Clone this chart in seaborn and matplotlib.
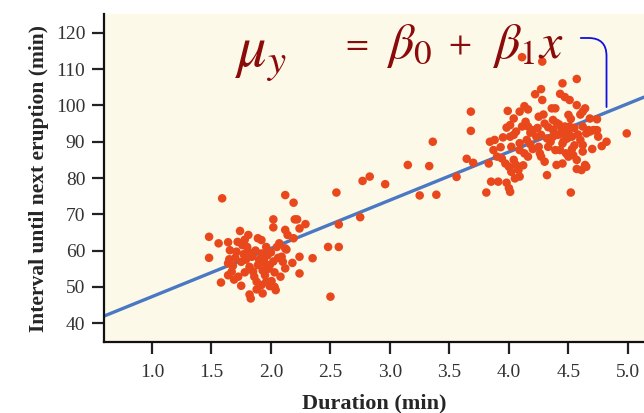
import matplotlib
matplotlib.use("Agg")
import matplotlib.pyplot as plt
import seaborn as sns
import pandas as pd

# ---- data ----
lower_duration = [1.48, 1.48, 1.56, 1.58, 1.59, 1.64, 1.655, 1.65, 1.64, 1.67, 1.64, 1.69,
                  1.74, 1.72, 1.71, 1.75, 1.725, 1.75, 1.82, 1.83, 1.93, 1.81, 1.78, 1.76,
                  1.80, 1.81, 1.84, 1.79, 1.85, 1.89, 1.95, 1.88, 1.96, 1.92, 1.96, 1.89,
                  1.92, 1.87, 1.90, 1.82, 1.86, 1.93, 1.98, 1.99, 2.005, 2.03, 2.04, 2.08,
                  2.12, 2.10, 2.09, 2.13, 2.12, 2.05, 2.07, 2.02, 2.02, 2.12, 2.14, 2.19,
                  2.20, 2.22, 2.29, 2.24, 2.19, 2.12, 2.24, 2.18, 2.24, 2.35, 1.97, 2.00,
                  2.02, 1.94, 1.77, 1.70, 1.68, 1.78, 1.92, 1.99, 1.88, 1.95, 2.03, 2.06]
lower_interval = [63.8, 58.0, 62.0, 51.2, 74.4, 62.3, 60.1, 57.6, 56.5, 54.2, 53.2, 52.0,
                  65.4, 62.4, 59.7, 56.9, 52.8, 50.3, 47.9, 46.8, 48.2, 64.3, 63.0, 61.5,
                  61.0, 59.7, 58.3, 57.5, 54.2, 56.0, 53.2, 51.4, 51.4, 59.2, 61.0, 63.4,
                  62.9, 60.0, 57.5, 55.5, 52.8, 54.5, 55.0, 56.0, 51.6, 50.0, 49.1, 52.8,
                  55.1, 56.9, 58.3, 60.3, 60.6, 61.0, 62.0, 68.6, 66.4, 65.7, 64.3, 63.4,
                  68.6, 68.6, 67.3, 66.1, 73.2, 75.3, 58.3, 56.6, 53.7, 57.9, 58.7, 59.5,
                  57.0, 57.8, 59.0, 58.0, 55.8, 54.0, 50.5, 50.2, 49.3, 56.5, 54.0, 58.0]

middle_duration = [2.48, 2.57, 2.57, 2.50, 2.55, 2.75, 2.77, 2.83, 2.96, 3.15, 3.25, 3.33,
                   3.39, 3.36, 3.56, 3.645, 3.70, 3.68, 3.68]
middle_interval = [61.0, 61.0, 67.2, 47.3, 76.0, 69.2, 79.2, 80.4, 78.3, 83.6, 75.2, 83.3,
                   75.4, 90.0, 80.3, 85.3, 84.2, 93.0, 98.3]

upper_duration = [4.11, 4.28, 4.57, 4.45, 4.27, 4.22, 4.43, 4.47, 4.28, 4.51, 4.57, 4.64,
                  4.13, 4.16, 4.36, 4.39, 3.99, 4.09, 4.50, 4.04, 4.25, 4.37, 4.68, 4.74,
                  3.98, 4.01, 4.11, 4.16, 4.20, 4.33, 4.37, 4.44, 4.47, 4.51, 4.55, 4.62,
                  4.71, 4.67, 4.99, 3.88, 3.84, 3.95, 4.01, 4.04, 4.09, 4.15, 4.23, 4.27,
                  4.32, 4.37, 4.41, 4.44, 4.48, 4.49, 4.53, 4.60, 4.62, 4.65, 4.74, 4.75,
                  4.82, 3.83, 3.87, 3.90, 3.94, 3.97, 4.00, 4.04, 4.06, 4.02, 4.08, 4.05,
                  4.09, 4.02, 4.09, 4.13, 4.16, 4.25, 4.26, 4.27, 4.33, 4.39, 4.40, 4.43,
                  4.48, 4.50, 4.54, 4.57, 4.62, 4.64, 4.65, 4.32, 3.85, 3.91, 3.81, 3.98,
                  4.00, 4.01, 4.52, 4.20, 4.18, 4.30, 4.40, 4.45, 4.55, 4.35, 4.46, 4.58,
                  4.42, 4.52, 4.60, 4.29, 4.24, 4.53, 4.70, 4.78, 4.14, 4.06, 3.93, 4.30,
                  4.45, 4.57, 4.12, 4.18, 4.62, 4.61, 4.46, 4.50, 4.68, 4.72]
upper_interval = [113.3, 112.1, 107.3, 106.1, 104.5, 103.1, 103.2, 102.3, 101.5, 101.5, 100.1, 99.2,
                  99.8, 98.9, 99.2, 99.2, 98.5, 98.3, 97.4, 96.4, 96.9, 96.0, 96.4, 96.2,
                  93.9, 94.6, 94.2, 94.2, 93.2, 94.0, 93.3, 93.8, 94.2, 94.2, 93.8, 94.2,
                  93.2, 93.2, 92.3, 90.5, 90.0, 91.2, 91.4, 91.9, 89.6, 90.5, 91.4, 91.9,
                  90.9, 91.4, 91.9, 92.3, 92.8, 90.9, 91.4, 90.5, 89.1, 92.3, 93.2, 91.4,
                  90.0, 84.0, 87.7, 85.9, 85.4, 84.0, 83.1, 85.0, 83.6, 81.7, 82.2, 79.9,
                  80.4, 88.6, 87.7, 86.8, 85.9, 88.6, 86.8, 85.9, 88.6, 87.7, 83.6, 87.7,
                  86.8, 85.9, 86.3, 85.0, 87.3, 83.6, 83.1, 80.8, 79.0, 79.0, 76.0, 78.7,
                  77.2, 76.2, 76.0, 88.0, 92.5, 95.0, 95.2, 89.5, 89.0, 90.0, 90.2, 92.0,
                  94.8, 96.3, 97.5, 97.5, 93.8, 88.0, 88.0, 88.8, 95.5, 92.8, 88.5, 84.5,
                  84.0, 82.5, 83.5, 89.3, 98.3, 82.2, 93.0, 92.5, 92.8, 93.2]

fit_intercept = 34.0
fit_slope = 13.3

x_ticks = [1.0, 1.5, 2.0, 2.5, 3.0, 3.5, 4.0, 4.5, 5.0]
y_ticks = [40, 50, 60, 70, 80, 90, 100, 110, 120]

df = pd.DataFrame({
    "Duration": lower_duration + middle_duration + upper_duration,
    "Interval": lower_interval + middle_interval + upper_interval,
})

sns.set_style("ticks")
plt.rcParams["font.family"] = ["Liberation Serif", "DejaVu Serif"]
plt.rcParams["mathtext.fontset"] = "stix"

fig = plt.figure(figsize=(6.44, 4.13), dpi=100)
ax = fig.add_axes([0.1615, 0.1719, 0.8385, 0.7941])
ax.set_facecolor("#FDF9E8")

ax.set_xlim(0.597, 5.135)
ax.set_ylim(34.8, 125.2)

ax.axline((0, fit_intercept), slope=fit_slope, color="#4A78C2", lw=2.4, zorder=2)
sns.scatterplot(data=df, x="Duration", y="Interval", ax=ax, color="#E8481C",
                s=38, edgecolor="none", zorder=3)

ax.set_xticks(x_ticks)
ax.set_xticklabels([f"{t:.1f}" for t in x_ticks])
ax.set_yticks(y_ticks)
ax.set_yticklabels([str(t) for t in y_ticks])
ax.tick_params(axis="both", direction="out", length=8.5, width=1.6, color="#222222",
               labelsize=14, labelcolor="#333333", pad=5)
ax.tick_params(axis="x", pad=7)

for side in ["top", "right"]:
    ax.spines[side].set_visible(False)
for side in ["left", "bottom"]:
    ax.spines[side].set_linewidth(1.6)
    ax.spines[side].set_color("#111111")

ax.set_xlabel("Duration (min)", fontsize=16, fontweight="bold", labelpad=9)
ax.set_ylabel("Interval until next eruption (min)", fontsize=15.5, fontweight="bold", labelpad=5)


def fx(px):
    return (px - 104) / 540


def fy(py):
    return (342 - py) / 328


# handwritten annotation
hand = dict(transform=ax.transAxes, color="#8B0A0A", va="baseline", ha="left")
ax.text(fx(235), fy(66), r"$\mu_{y}$", fontsize=42, **hand)
ax.text(fx(341), fy(52), r"$=$", fontsize=24, **hand)
ax.text(fx(386), fy(58), r"$\beta_0$", fontsize=36, **hand)
ax.text(fx(448), fy(52), r"$+$", fontsize=24, **hand)
ax.text(fx(492), fy(58), r"$\beta_1 x$", fontsize=36, **hand)
ax.annotate("", xy=(4.82, 98.8), xytext=(4.58, 118.6),
            arrowprops=dict(arrowstyle="-", color="#1010E0", lw=1.3,
                            connectionstyle="angle,angleA=0,angleB=90,rad=18"))

fig.savefig("out.png", dpi=100)
